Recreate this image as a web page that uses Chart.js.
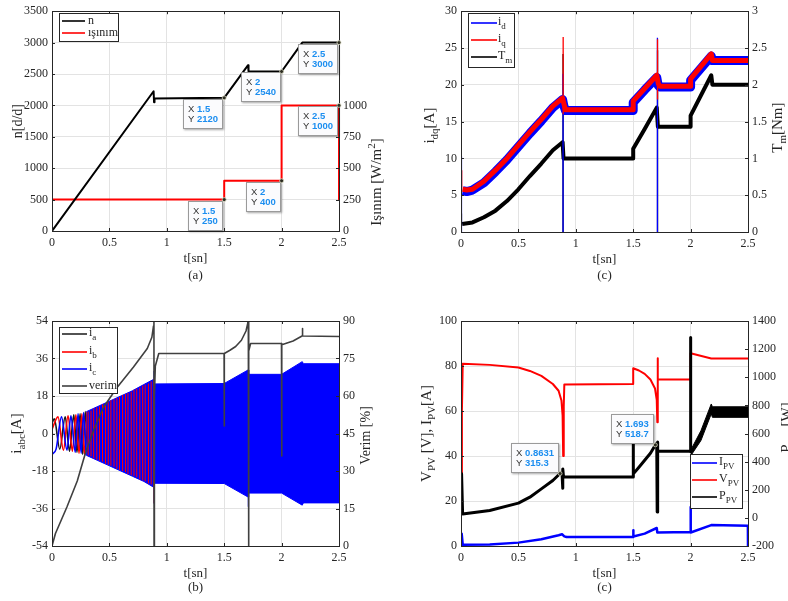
<!DOCTYPE html>
<html>
<head>
<meta charset="utf-8">
<script src="https://cdn.jsdelivr.net/npm/chart.js@4.4.0/dist/chart.umd.min.js"></script>
<style>
  body { margin: 0; background: #fff; width: 788px; height: 601px; position: relative; overflow: hidden; }
  canvas { position: absolute; }
</style>
</head>
<body>
<canvas id="ca" width="394" height="300" style="left:0;top:0"></canvas>
<canvas id="cc" width="394" height="300" style="left:394px;top:0"></canvas>
<canvas id="cb" width="394" height="301" style="left:0;top:300px"></canvas>
<canvas id="cd" width="394" height="301" style="left:394px;top:300px"></canvas>
<script>
// ---- (a) speed / irradiance ----
const tN   = [0, 0.885, 0.889, 0.893, 1.5, 1.708, 1.712, 2.0, 2.18, 2.5];
const nVal = [0, 2225, 2050, 2110, 2120, 2640, 2540, 2540, 3000, 3000];
const tIrr = [0, 1.5, 1.5, 2.0, 2.0, 2.5, 2.5];
const irr  = [250, 250, 400, 400, 1000, 1000, 250];
const tipNT = [1.5, 2, 2.5],   tipNV = [2120, 2540, 3000];
const tipIrrT = [1.5, 2, 2.5], tipIrrV = [250, 400, 1000];

// ---- (c) top: id, iq, Tm ----
const tDq = [0.015, 0.05, 0.1, 0.2, 0.3, 0.4, 0.5, 0.6, 0.7, 0.8, 0.885, 0.895, 0.91, 1.5, 1.5, 1.6, 1.705, 1.718, 1.73, 2.0, 2.0, 2.18, 2.19, 2.5];
const iq  = [5.8, 5.7, 5.8, 6.9, 8.4, 10, 11.8, 13.6, 15.3, 17.1, 18.2, 17.5, 16.6, 16.6, 17.8, 19.5, 21.3, 20.2, 19.8, 19.8, 20.8, 24.2, 23.3, 23.3];
const id  = [5.6, 5.5, 5.7, 6.7, 8.2, 9.8, 11.6, 13.4, 15.1, 16.9, 18.0, 17.2, 16.5, 16.5, 17.6, 19.3, 21.0, 19.9, 19.7, 19.7, 20.6, 23.9, 23.3, 23.3];
const tTm = [0.01, 0.1, 0.2, 0.3, 0.4, 0.5, 0.6, 0.7, 0.8, 0.885, 0.893, 1.5, 1.5, 1.6, 1.705, 1.715, 2.0, 2.0, 2.18, 2.19, 2.5];
const tm  = [0.11, 0.13, 0.2, 0.29, 0.42, 0.58, 0.76, 0.93, 1.11, 1.22, 1.0, 1.0, 1.13, 1.4, 1.69, 1.43, 1.43, 1.58, 2.13, 2.0, 2.0];
const idSpT = [0.004, 0.889, 1.711], idSpLo = [0, 0, 0],   idSpHi = [10.3, 21.5, 26.4];
const iqSpT = [0.006, 0.890, 1.712], iqSpLo = [5.5, 16, 18], iqSpHi = [8.4, 26.5, 26.2];
const tmSpT = [0.004, 0.889, 1.712], tmSpLo = [0.1, 0, 0],  tmSpHi = [0.25, 2.42, 2.47];

// ---- (b) phase currents / efficiency ----
const tIa = [0, 0.02, 0.0675, 0.115, 0.1525, 0.19, 0.2175, 0.245, 0.2675, 0.29, 0.31];
const ia  = [5, 7, -7.5, 8, -8.5, 9, -9, 9.5, -10, 10.5, -10.5];
const tIb = [0, 0.052, 0.0995, 0.14, 0.1775, 0.208, 0.2355, 0.26, 0.2825, 0.305];
const ib  = [2, 8, -8, 8.5, -8.5, 9, -9.5, 9.5, -10, 10.5];
const tIc = [0, 0.0355, 0.083, 0.1305, 0.165, 0.2025, 0.227, 0.2545, 0.275, 0.2975];
const ic  = [-10, -7.5, 8, -8, 8.5, -9, 9.5, -9.5, 10, -10.5];
const tEnv  = [0.3, 0.4, 0.5, 0.6, 0.7, 0.8, 0.886, 0.893, 1.5, 1.708, 1.714, 2.0, 2.18, 2.19, 2.5];
const envHi = [10.5, 13, 15.5, 18, 20.5, 23.5, 26, 23.8, 24, 30.5, 28.4, 28.4, 34.5, 33.5, 33.5];
const envLo = [-10.5, -13, -15.5, -18, -20.5, -23, -25.8, -23.9, -24, -30.5, -28.6, -28.6, -34.4, -33.3, -33.3];
const icSpT = [0.889, 1.711], icSpLo = [-33.6, -35.2], icSpHi = [30, 30.6];
const ibStT  = [0.315, 0.34, 0.363, 0.39, 0.414, 0.44, 0.466, 0.49, 0.513, 0.54, 0.565, 0.588, 0.615, 0.64, 0.662, 0.69, 0.714, 0.738, 0.765, 0.79, 0.812, 0.84, 0.864, 0.884, 0.889];
const ibStHi = [10.5, 11, 12, 12.5, 13, 14, 14.5, 15, 16, 16.5, 17, 17.5, 18.5, 19, 19.5, 20, 21, 21.5, 22, 23, 23.5, 24, 25, 26, 20];
const ibStLo = [-10.5, -11, -12, -12.5, -13, -13.5, -14.5, -15, -15.5, -16, -17, -17.5, -18, -18.5, -19.5, -20, -20.5, -21, -22, -22.5, -23, -24, -24.5, -25.5, -33.5];
const tVerim = [0, 0.012, 0.03, 0.13, 0.22, 0.29, 0.36, 0.45, 0.57, 0.71, 0.83, 0.87, 0.884, 0.888, 0.889, 0.892, 0.9, 0.93, 1.499, 1.5, 1.502, 1.55, 1.6, 1.65, 1.69, 1.705, 1.71, 1.711, 1.716, 1.73, 1.999, 2.0, 2.003, 2.1, 2.178, 2.18, 2.185, 2.5];
const verim  = [0, 2, 5, 15.6, 26, 37, 46, 55.6, 63.6, 71.6, 79, 83.5, 88, 93, 0, 60, 72, 77, 77, 48, 77, 78.3, 79.8, 82.3, 86, 89, 93, 0, 78, 81, 81, 36, 80.5, 82, 84, 87, 84, 83.8];

// ---- (c) bottom: PV side ----
const tV  = [0.002, 0.008, 0.015, 0.25, 0.5, 0.6, 0.7, 0.8, 0.85, 0.875, 0.885, 0.89, 0.895, 0.9, 1.499, 1.5, 1.55, 1.6, 1.65, 1.69, 1.705, 1.71, 1.712, 1.716, 1.72, 1.999, 2.0, 2.18, 2.5];
const vPV = [15, 60, 81, 80.5, 79.3, 77.8, 75.6, 72, 69, 64.7, 58, 40, 62, 71.8, 72, 79, 78, 76.5, 74, 70, 65, 55, 83.5, 74, 74, 74, 85.7, 83.3, 83.3];
const tI  = [0.002, 0.006, 0.015, 0.25, 0.5, 0.7, 0.85, 0.88, 0.9, 0.92, 1.499, 1.5, 1.503, 1.6, 1.705, 1.71, 1.999, 2.0, 2.002, 2.18, 2.499, 2.5];
const iPV = [0, 5.5, 0.6, 0.7, 1.5, 3, 4.8, 5.2, 4.3, 4, 4, 7, 4.2, 5.5, 8, 6, 6.2, 17.3, 6, 9.3, 9, 0];
const tP  = [0.002, 0.005, 0.014, 0.25, 0.5, 0.6, 0.7, 0.8, 0.8631, 0.88, 0.885, 0.888, 0.892, 0.9, 1.499, 1.5, 1.502, 1.55, 1.6, 1.65, 1.693, 1.705, 1.709, 1.711, 1.715, 1.999, 2.0, 2.001];
const pPV = [100, 313, 28, 53, 105, 147, 206, 266, 315.3, 320, 210, 348, 300, 290, 290, 573, 313, 360, 410, 460, 518.7, 530, 41, 540, 474, 474, 1282, 470];
const tPb = [2.0, 2.09, 2.18, 2.19, 2.5];
const pHi = [480, 620, 810, 790, 790];
const pLo = [440, 550, 740, 715, 715];
const tipPT = [0.8631, 1.693], tipPV = [315.3, 518.7];

const ink = '#262626';
const serif = 'Liberation Serif';
const gridCol = '#e3e3e3';

function xAxis(h) {
  return {
    type: 'linear', min: 0, max: 2.5,
    ticks: { stepSize: 0.5, padding: 5, color: ink, font: { family: serif, size: 12 }, maxRotation: 0, autoSkip: false, callback: v => String(v) },
    grid: { color: gridCol, drawTicks: false },
    border: { display: false },
    afterFit(s) { s.height = h; }
  };
}
function yAxis(pos, w, min, max, step, grid, maxLabel) {
  return {
    type: 'linear', position: pos, min: min, max: max,
    ticks: { stepSize: step, padding: 4, color: ink, font: { family: serif, size: 12 },
      callback: v => (maxLabel != null && v > maxLabel) ? '' : String(v) },
    grid: { display: grid, color: gridCol, drawTicks: false },
    border: { display: false },
    afterFit(s) { s.width = w; }
  };
}
function line(ts, vs, color, width, axis, extra) {
  return Object.assign({
    data: ts.map((t, i) => ({ x: t, y: vs[i] })),
    borderColor: color, backgroundColor: color, borderWidth: width, yAxisID: axis || 'y',
    pointRadius: 0, fill: false, tension: 0, borderJoinStyle: 'round', spanGaps: false
  }, extra || {});
}
function spikes(ts, lo, hi, color, width, axis) {
  const d = [];
  ts.forEach((t, i) => { d.push({ x: t, y: lo[i] }, { x: t, y: hi[i] }, { x: t, y: null }); });
  return { data: d, borderColor: color, borderWidth: width, yAxisID: axis || 'y', pointRadius: 0, fill: false, spanGaps: false };
}

function rich(ctx, parts, x, y, rot, size, color, left) {
  ctx.save();
  ctx.translate(x, y);
  if (rot) ctx.rotate(rot);
  ctx.fillStyle = color || ink;
  ctx.textBaseline = 'alphabetic';
  ctx.textAlign = 'left';
  const fonts = parts.map(p => (p[1] ? Math.round(size * 0.72) : size) + 'px "Liberation Serif"');
  const ws = parts.map((p, i) => { ctx.font = fonts[i]; return ctx.measureText(p[0]).width; });
  let cx = left ? 0 : -ws.reduce((a, b) => a + b, 0) / 2;
  parts.forEach((p, i) => {
    ctx.font = fonts[i];
    const dy = p[1] === 'sub' ? size * 0.3 : p[1] === 'sup' ? -size * 0.4 : 0;
    ctx.fillText(p[0], cx, size * 0.33 + dy);
    cx += ws[i];
  });
  ctx.restore();
}

function drawLegend(ctx, L) {
  ctx.save();
  ctx.fillStyle = '#fff';
  ctx.fillRect(L.x, L.y, L.w, L.h);
  ctx.strokeStyle = ink; ctx.lineWidth = 1;
  ctx.strokeRect(L.x + 0.5, L.y + 0.5, L.w, L.h);
  L.rows.forEach(r => {
    ctx.strokeStyle = r.c; ctx.lineWidth = 1.6;
    ctx.beginPath(); ctx.moveTo(L.l1, r.y); ctx.lineTo(L.l2, r.y); ctx.stroke();
    rich(ctx, r.p, L.tx, r.y - (r.p.length > 1 ? 2 : 1), 0, 12, ink, true);
  });
  ctx.restore();
}

function drawTip(ctx, px, py, xs, ys, above) {
  ctx.save();
  const norm = '9.5px "Liberation Sans"', bold = 'bold 9.5px "Liberation Sans"';
  ctx.font = norm;
  const wX = ctx.measureText('X ').width, wY = ctx.measureText('Y ').width;
  ctx.font = bold;
  const w = Math.round(Math.max(wX + ctx.measureText(xs).width, wY + ctx.measureText(ys).width) + 10);
  const h = 30;
  const bx = Math.round(px) - w - 1;
  const by = above ? Math.round(py) - h - 1 : Math.round(py) + 1;
  ctx.shadowColor = 'rgba(0,0,0,0.35)'; ctx.shadowBlur = 2; ctx.shadowOffsetX = 1; ctx.shadowOffsetY = 1;
  ctx.fillStyle = '#fbfbfd';
  ctx.fillRect(bx, by, w, h);
  ctx.shadowColor = 'transparent';
  ctx.strokeStyle = '#9a9a9a'; ctx.lineWidth = 1;
  ctx.strokeRect(bx + 0.5, by + 0.5, w - 1, h - 1);
  ctx.textBaseline = 'middle'; ctx.textAlign = 'left';
  [[ 'X ', xs, wX, 10 ], [ 'Y ', ys, wY, 20 ]].forEach(r => {
    ctx.font = norm; ctx.fillStyle = '#333';
    ctx.fillText(r[0], bx + 5, by + r[3] + 0.5);
    ctx.font = bold; ctx.fillStyle = '#1c8ef0';
    ctx.fillText(r[1], bx + 5 + r[2], by + r[3] + 0.5);
  });
  ctx.beginPath(); ctx.arc(px, py, 2, 0, Math.PI * 2);
  ctx.fillStyle = '#2b2b20'; ctx.fill();
  ctx.strokeStyle = '#d8d8c0'; ctx.lineWidth = 0.8; ctx.stroke();
  ctx.restore();
}

function deco(cfg) {
  return {
    id: 'deco',
    afterDraw(chart) {
      const ctx = chart.ctx, a = chart.chartArea;
      ctx.save();
      ctx.strokeStyle = ink; ctx.lineWidth = 1;
      ctx.beginPath();
      ['x', 'y', 'y1'].forEach(idn => {
        const s = chart.scales[idn];
        if (!s) return;
        s.ticks.forEach(t => {
          if (t.label === '') return;
          const p = Math.round(s.getPixelForValue(t.value)) + 0.5;
          if (idn === 'x') {
            ctx.moveTo(p, a.bottom); ctx.lineTo(p, a.bottom - 3);
            ctx.moveTo(p, a.top); ctx.lineTo(p, a.top + 3);
          } else if (idn === 'y') {
            ctx.moveTo(a.left, p); ctx.lineTo(a.left + 3, p);
          } else {
            ctx.moveTo(a.right, p); ctx.lineTo(a.right - 3, p);
          }
        });
      });
      ctx.stroke();
      ctx.strokeRect(Math.round(a.left) + 0.5, Math.round(a.top) + 0.5, Math.round(a.right - a.left), Math.round(a.bottom - a.top));
      ctx.restore();
      cfg.titles(a).forEach(t => rich(ctx, t.p, t.x, t.y, t.r, t.s || 14));
      if (cfg.legend) drawLegend(ctx, cfg.legend);
      (cfg.tips || []).forEach(tp => {
        const px = chart.scales.x.getPixelForValue(tp.x);
        const py = chart.scales[tp.axis].getPixelForValue(tp.y);
        drawTip(ctx, px, py, String(tp.x), String(tp.y), tp.above);
      });
    }
  };
}

function make(id, datasets, scales, pad, cfg) {
  return new Chart(document.getElementById(id), {
    type: 'line',
    data: { datasets: datasets },
    options: {
      responsive: false, animation: false, devicePixelRatio: 1, events: [],
      layout: { padding: { top: pad, left: 0, right: 0, bottom: 0 } },
      plugins: { legend: { display: false }, tooltip: { enabled: false } },
      scales: scales
    },
    plugins: [deco(cfg)]
  });
}

const V = -Math.PI / 2;

// (a)
make('ca', [
  line(tN, nVal, '#000000', 2, 'y'),
  line(tIrr, irr, '#ff0000', 2, 'y1')
], {
  x: xAxis(69),
  y: yAxis('left', 52, 0, 3500, 500, true),
  y1: yAxis('right', 55, 0, 1750, 250, false, 1000)
}, 7, {
  titles: a => [
    { p: [['n[d/d]']], x: a.left - 35, y: (a.top + a.bottom) / 2, r: V },
    { p: [['Işınım [W/m'], ['2', 'sup'], [']']], x: a.right + 37, y: a.bottom - 49, r: V, s: 15 },
    { p: [['t[sn]']], x: (a.left + a.right) / 2, y: a.bottom + 27, s: 13 },
    { p: [['(a)']], x: (a.left + a.right) / 2, y: a.bottom + 44, s: 13 }
  ],
  legend: { x: 59, y: 13, w: 59, h: 28, l1: 62, l2: 85, tx: 88,
    rows: [{ y: 21, c: '#000', p: [['n']] }, { y: 33, c: '#ff0000', p: [['ışınım']] }] },
  tips: tipNT.map((t, i) => ({ x: t, y: tipNV[i], axis: 'y' }))
    .concat(tipIrrT.map((t, i) => ({ x: t, y: tipIrrV[i], axis: 'y1' })))
});

// (c) top
make('cc', [
  spikes(iqSpT, iqSpLo, iqSpHi, '#ff0000', 1.3, 'y'),
  line(tDq, iq, '#ff0000', 5, 'y'),
  spikes(idSpT, idSpLo, idSpHi, '#0000ff', 1.3, 'y'),
  line(tDq, id, '#0000ff', 9, 'y'),
  spikes(tmSpT, tmSpLo, tmSpHi, '#000000', 1.3, 'y1'),
  line(tTm, tm, '#000000', 4, 'y1')
], {
  x: xAxis(68),
  y: yAxis('left', 67, 0, 30, 5, true),
  y1: yAxis('right', 40, 0, 3, 0.5, false)
}, 7, {
  titles: a => [
    { p: [['i'], ['dq', 'sub'], ['[A]']], x: a.left - 32, y: (a.top + a.bottom) / 2 + 4, r: V, s: 15 },
    { p: [['T'], ['m', 'sub'], ['[Nm]']], x: a.right + 29, y: (a.top + a.bottom) / 2 + 6, r: V, s: 15 },
    { p: [['t[sn]']], x: (a.left + a.right) / 2, y: a.bottom + 27, s: 13 },
    { p: [['(c)']], x: (a.left + a.right) / 2, y: a.bottom + 43, s: 13 }
  ],
  legend: { x: 74, y: 13, w: 46, h: 54, l1: 77, l2: 103, tx: 104,
    rows: [
      { y: 23, c: '#0000ff', p: [['i'], ['d', 'sub']] },
      { y: 40, c: '#ff0000', p: [['i'], ['q', 'sub']] },
      { y: 57, c: '#000000', p: [['T'], ['m', 'sub']] }
    ] }
});

// (b)
make('cb', [
  line(tVerim, verim, '#404040', 1.6, 'y1'),
  line(tIc, ic, '#0000ff', 1.6, 'y', { cubicInterpolationMode: 'monotone' }),
  spikes(ibStT, ibStLo, ibStHi, '#ff0000', 1, 'y'),
  spikes(icSpT, icSpLo, icSpHi, '#0000ff', 1.3, 'y'),
  line(tEnv, envHi, '#0000ff', 1, 'y', { fill: '+1' }),
  line(tEnv, envLo, '#0000ff', 1, 'y'),
  line(tIb, ib, '#ff0000', 1.6, 'y', { cubicInterpolationMode: 'monotone' }),
  line(tIa, ia, '#1a1a1a', 1.6, 'y', { cubicInterpolationMode: 'monotone' })
], {
  x: xAxis(55),
  y: yAxis('left', 52, -54, 54, 18, true),
  y1: yAxis('right', 55, 0, 90, 15, false)
}, 21, {
  titles: a => [
    { p: [['i'], ['abc', 'sub'], ['[A]']], x: a.left - 36, y: (a.top + a.bottom) / 2, r: V, s: 15 },
    { p: [['Verim [%]']], x: a.right + 26, y: (a.top + a.bottom) / 2 + 2, r: V },
    { p: [['t[sn]']], x: (a.left + a.right) / 2, y: a.bottom + 27, s: 13 },
    { p: [['(b)']], x: (a.left + a.right) / 2, y: a.bottom + 41, s: 13 }
  ],
  legend: { x: 59, y: 27, w: 58, h: 66, l1: 62, l2: 87, tx: 89,
    rows: [
      { y: 34, c: '#262626', p: [['i'], ['a', 'sub']] },
      { y: 52, c: '#ff0000', p: [['i'], ['b', 'sub']] },
      { y: 69, c: '#0000ff', p: [['i'], ['c', 'sub']] },
      { y: 86, c: '#404040', p: [['verim']] }
    ] }
});

// (c) bottom
make('cd', [
  line(tP, pPV, '#000000', 3, 'y1'),
  line(tPb, pHi, '#000000', 1, 'y1', { fill: '+1' }),
  line(tPb, pLo, '#000000', 1, 'y1'),
  line(tV, vPV, '#ff0000', 2, 'y'),
  line(tI, iPV, '#0000ff', 2.5, 'y')
], {
  x: xAxis(55),
  y: yAxis('left', 67, 0, 100, 20, true),
  y1: yAxis('right', 40, -200, 1400, 200, false)
}, 21, {
  titles: a => [
    { p: [['V'], ['PV', 'sub'], [' [V], I'], ['PV', 'sub'], ['[A]']], x: a.left - 35, y: (a.top + a.bottom) / 2, r: V, s: 15 },
    { p: [['P'], ['PV', 'sub'], [' [W]']], x: a.right + 38, y: (a.top + a.bottom) / 2 - 6, r: V, s: 15 },
    { p: [['t[sn]']], x: (a.left + a.right) / 2, y: a.bottom + 27, s: 13 },
    { p: [['(c)']], x: (a.left + a.right) / 2, y: a.bottom + 41, s: 13 }
  ],
  legend: { x: 296, y: 154, w: 52, h: 54, l1: 298, l2: 323, tx: 325,
    rows: [
      { y: 163, c: '#0000ff', p: [['I'], ['PV', 'sub']] },
      { y: 180, c: '#ff0000', p: [['V'], ['PV', 'sub']] },
      { y: 197, c: '#000000', p: [['P'], ['PV', 'sub']] }
    ] },
  tips: tipPT.map((t, i) => ({ x: t, y: tipPV[i], axis: 'y1', above: true }))
});
</script>
</body>
</html>
